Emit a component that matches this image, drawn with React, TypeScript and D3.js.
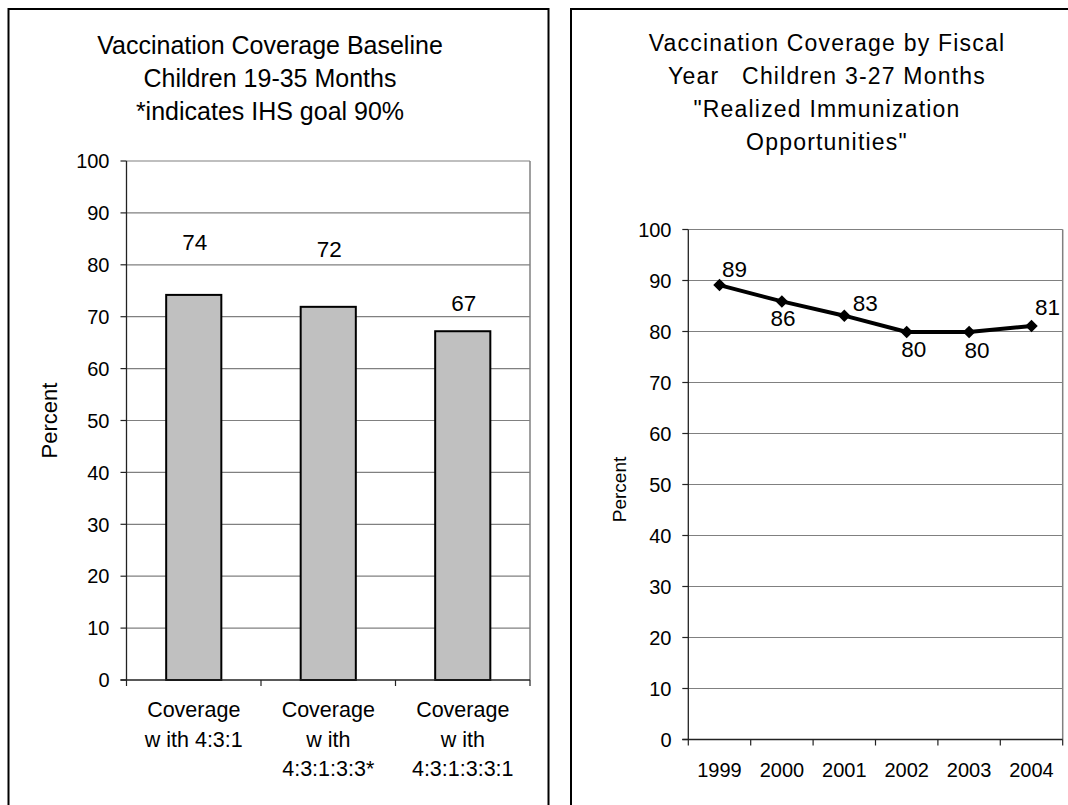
import React from "react";
import * as d3 from "d3";

// ---------- Data ----------
const barCategories: string[][] = [
  ["Coverage", "w ith 4:3:1"],
  ["Coverage", "w ith", "4:3:1:3:3*"],
  ["Coverage", "w ith", "4:3:1:3:3:1"],
];
const barValues: number[] = [74.2, 71.9, 67.2];
const barLabels: string[] = ["74", "72", "67"];

const leftTitle: string[] = [
  "Vaccination Coverage Baseline",
  "Children 19-35 Months",
  "*indicates IHS goal 90%",
];

const years: string[] = ["1999", "2000", "2001", "2002", "2003", "2004"];
const lineValues: number[] = [89.1, 85.9, 83.1, 79.9, 79.9, 81.1];
const lineLabels: string[] = ["89", "86", "83", "80", "80", "81"];

const rightTitle: string[] = [
  "Vaccination Coverage by Fiscal",
  "Year   Children 3-27 Months",
  "\"Realized Immunization",
  "Opportunities\"",
];

const yTicks: number[] = [0, 10, 20, 30, 40, 50, 60, 70, 80, 90, 100];
const yLabel = "Percent";

// ---------- Layout (positions, not data) ----------
const barLabelLift = [53, 58, 28];
const lineLabelOffsets: [number, number][] = [
  [15, -16],
  [1, 16],
  [21, -13],
  [7, 17],
  [8, 18],
  [16, -19],
];

const FONT = "'Liberation Sans', Arial, Helvetica, sans-serif";

export default function App() {
  // Left chart scales
  const L = { x0: 126.5, x1: 530, y0: 680, y1: 161 };
  const yL = d3.scaleLinear().domain([0, 100]).range([L.y0, L.y1]);
  const xL = d3
    .scaleBand<number>()
    .domain(barValues.map((_, i) => i))
    .range([L.x0, L.x1])
    .paddingInner(0.59)
    .paddingOuter(0.295);
  const stepL = xL.step();

  // Right chart scales
  const R = { x0: 688.3, x1: 1062.7, y0: 739.5, y1: 229.5 };
  const yR = d3.scaleLinear().domain([0, 100]).range([R.y0, R.y1]);
  const xR = d3.scalePoint<string>().domain(years).range([R.x0, R.x1]).padding(0.5);
  const stepR = xR.step();

  const line = d3
    .line<number>()
    .x((_, i) => xR(years[i]) as number)
    .y((d) => yR(d));

  const diamond = d3.symbol().type(d3.symbolDiamond2).size(100)();

  const gridColor = "#808080";
  const axisColor = "#222";

  return (
    <svg
      width={1068}
      height={805}
      style={{ position: "absolute", left: 0, top: 0, display: "block", background: "#fff" }}
      fontFamily={FONT}
    >
      {/* Panel borders */}
      <rect x={8.5} y={9} width={540} height={820} fill="none" stroke="#000" strokeWidth={2} />
      <rect x={571} y={9} width={520} height={820} fill="none" stroke="#000" strokeWidth={2} />

      {/* ---------- LEFT CHART ---------- */}
      <g fontSize={25} textAnchor="middle" fill="#000">
        {leftTitle.map((t, i) => (
          <text key={i} x={270} y={54 + i * 33}>
            {t}
          </text>
        ))}
      </g>

      {/* gridlines */}
      {yTicks
        .filter((t) => t > 0)
        .map((t) => (
          <line key={t} x1={L.x0} x2={L.x1} y1={yL(t)} y2={yL(t)} stroke={gridColor} strokeWidth={1.2} />
        ))}
      <line x1={L.x1} x2={L.x1} y1={L.y1} y2={L.y0} stroke={gridColor} strokeWidth={1.5} />

      {/* bars */}
      {barValues.map((v, i) => (
        <rect
          key={i}
          x={xL(i)}
          y={yL(v)}
          width={xL.bandwidth()}
          height={yL(0) - yL(v)}
          fill="#C0C0C0"
          stroke="#000"
          strokeWidth={2}
        />
      ))}

      {/* axes */}
      <line x1={L.x0} x2={L.x0} y1={L.y1} y2={L.y0} stroke={axisColor} strokeWidth={1.3} />
      <line x1={L.x0 - 6} x2={L.x1} y1={L.y0} y2={L.y0} stroke={axisColor} strokeWidth={1.3} />
      {yTicks.map((t) => (
        <g key={t}>
          <line x1={L.x0 - 6} x2={L.x0} y1={yL(t)} y2={yL(t)} stroke={axisColor} strokeWidth={1.2} />
          <text x={109.5} y={yL(t)} dy="0.36em" textAnchor="end" fontSize={20}>
            {t}
          </text>
        </g>
      ))}
      {d3.range(barValues.length + 1).map((i) => (
        <line
          key={i}
          x1={L.x0 + i * stepL}
          x2={L.x0 + i * stepL}
          y1={L.y0}
          y2={L.y0 + 6}
          stroke={axisColor}
          strokeWidth={1.2}
        />
      ))}

      {/* category labels */}
      {barCategories.map((lines, i) => (
        <text key={i} textAnchor="middle" fontSize={21.5}>
          {lines.map((ln, j) => (
            <tspan key={j} x={(xL(i) as number) + xL.bandwidth() / 2} y={717 + j * 29.5}>
              {ln}
            </tspan>
          ))}
        </text>
      ))}

      {/* data labels */}
      {barValues.map((v, i) => (
        <text
          key={i}
          x={(xL(i) as number) + xL.bandwidth() / 2 + 1}
          y={yL(v) - barLabelLift[i]}
          dy="0.36em"
          textAnchor="middle"
          fontSize={22.5}
        >
          {barLabels[i]}
        </text>
      ))}

      <text
        transform={`translate(56.5,${(L.y0 + L.y1) / 2}) rotate(-90)`}
        textAnchor="middle"
        fontSize={22}
      >
        {yLabel}
      </text>

      {/* ---------- RIGHT CHART ---------- */}
      <g fontSize={23} textAnchor="middle" fill="#000" letterSpacing={1.2} style={{ whiteSpace: "pre" }}>
        {rightTitle.map((t, i) => (
          <text key={i} x={827} y={51 + i * 33} xmlSpace="preserve">
            {t}
          </text>
        ))}
      </g>

      {yTicks
        .filter((t) => t > 0)
        .map((t) => (
          <line key={t} x1={R.x0} x2={R.x1} y1={yR(t)} y2={yR(t)} stroke={gridColor} strokeWidth={1.2} />
        ))}
      <line x1={R.x1} x2={R.x1} y1={R.y1} y2={R.y0} stroke={gridColor} strokeWidth={1.5} />

      <line x1={R.x0} x2={R.x0} y1={R.y1} y2={R.y0} stroke={axisColor} strokeWidth={1.3} />
      <line x1={R.x0 - 6} x2={R.x1} y1={R.y0} y2={R.y0} stroke={axisColor} strokeWidth={1.3} />
      {yTicks.map((t) => (
        <g key={t}>
          <line x1={R.x0 - 6} x2={R.x0} y1={yR(t)} y2={yR(t)} stroke={axisColor} strokeWidth={1.2} />
          <text x={671.5} y={yR(t)} dy="0.36em" textAnchor="end" fontSize={20}>
            {t}
          </text>
        </g>
      ))}
      {d3.range(years.length + 1).map((i) => (
        <line
          key={i}
          x1={R.x0 + i * stepR}
          x2={R.x0 + i * stepR}
          y1={R.y0}
          y2={R.y0 + 6}
          stroke={axisColor}
          strokeWidth={1.2}
        />
      ))}
      {years.map((yv) => (
        <text key={yv} x={xR(yv)} y={777} textAnchor="middle" fontSize={20}>
          {yv}
        </text>
      ))}

      <path d={line(lineValues) || ""} fill="none" stroke="#000" strokeWidth={4} strokeLinejoin="round" />
      {lineValues.map((v, i) => (
        <path key={i} d={diamond || ""} transform={`translate(${xR(years[i])},${yR(v)})`} fill="#000" />
      ))}
      {lineValues.map((v, i) => (
        <text
          key={i}
          x={(xR(years[i]) as number) + lineLabelOffsets[i][0]}
          y={yR(v) + lineLabelOffsets[i][1]}
          dy="0.36em"
          textAnchor="middle"
          fontSize={22.5}
        >
          {lineLabels[i]}
        </text>
      ))}

      <text
        transform={`translate(626,${(R.y0 + R.y1) / 2 + 5}) rotate(-90)`}
        textAnchor="middle"
        fontSize={19}
      >
        {yLabel}
      </text>
    </svg>
  );
}
